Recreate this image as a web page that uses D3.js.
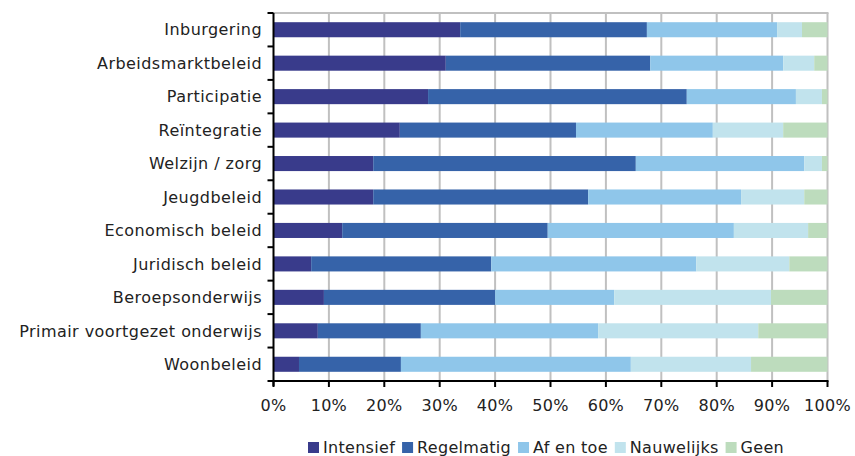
<!DOCTYPE html>
<html>
<head>
<meta charset="utf-8">
<script src="https://cdn.jsdelivr.net/npm/d3@7/dist/d3.min.js"></script>
<style>
  body { margin: 0; background: #fff; }
  text { font-family: "DejaVu Sans", Verdana, sans-serif; fill: #222; letter-spacing: 0.3px; }
  .cat { letter-spacing: 0.45px; }
</style>
</head>
<body>
<div id="chart"></div>
<script>
// categories, top to bottom
var categories = ["Inburgering", "Arbeidsmarktbeleid", "Participatie", "Reïntegratie",
  "Welzijn / zorg", "Jeugdbeleid", "Economisch beleid", "Juridisch beleid",
  "Beroepsonderwijs", "Primair voortgezet onderwijs", "Woonbeleid"];

var seriesNames = ["Intensief", "Regelmatig", "Af en toe", "Nauwelijks", "Geen"];

// percentages per series, in category order
var intensief  = [33.7, 31.1, 27.9, 22.8, 18.0, 18.0, 12.4,  6.8,  9.1,  8.0,  4.6];
var regelmatig = [33.7, 36.9, 46.7, 31.8, 47.4, 38.8, 37.1, 32.5, 30.9, 18.6, 18.4];
var afEnToe    = [23.5, 24.0, 19.7, 24.7, 30.4, 27.6, 33.6, 37.0, 21.5, 32.0, 41.5];
var nauwelijks = [ 4.5,  5.6,  4.7, 12.7,  3.2, 11.4, 13.4, 16.8, 28.3, 28.9, 21.7];
var geen       = [ 4.6,  2.4,  1.0,  8.0,  1.0,  4.2,  3.5,  6.9, 10.2, 12.5, 13.8];

var xTicks = [0, 10, 20, 30, 40, 50, 60, 70, 80, 90, 100];

var colors = ["#393b8b", "#3663a9", "#8fc6ea", "#c1e3ed", "#bddcbd"];

var width = 855, height = 456;
var plotLeft = 273.5, plotRight = 827.5, plotTop = 13, plotBottom = 381;

var svg = d3.select("#chart").append("svg")
  .attr("width", width)
  .attr("height", height);

var x = d3.scaleLinear().domain([0, 100]).range([plotLeft, plotRight]);
var y = d3.scaleBand().domain(categories).range([plotTop, plotBottom])
  .paddingInner(0.55).paddingOuter(0.275);

// table for the stack
var rows = categories.map(function(c, i) {
  return {cat: c, "Intensief": intensief[i], "Regelmatig": regelmatig[i],
    "Af en toe": afEnToe[i], "Nauwelijks": nauwelijks[i], "Geen": geen[i]};
});
var stacked = d3.stack().keys(seriesNames)(rows);

// grid
svg.append("g").selectAll("line")
  .data(xTicks.slice(1))
  .enter().append("line")
  .attr("x1", function(d) { return x(d); })
  .attr("x2", function(d) { return x(d); })
  .attr("y1", plotTop).attr("y2", plotBottom)
  .style("stroke", "#c0c0c0").style("stroke-width", 2);

svg.append("line")
  .attr("x1", plotLeft).attr("x2", plotRight + 1)
  .attr("y1", plotTop).attr("y2", plotTop)
  .style("stroke", "#c0c0c0").style("stroke-width", 2);

// bars
svg.append("g").selectAll("g")
  .data(stacked)
  .enter().append("g")
  .attr("fill", function(d, i) { return colors[i]; })
  .selectAll("rect")
  .data(function(d) { return d; })
  .enter().append("rect")
  .attr("x", function(d) { return x(d[0]); })
  .attr("width", function(d) { return x(d[1]) - x(d[0]); })
  .attr("y", function(d) { return y(d.data.cat); })
  .attr("height", y.bandwidth());

// left axis with ticks between categories
var step = y.step();
var yEdges = d3.range(categories.length + 1).map(function(i) { return plotTop + i * step; });
var yAxis = svg.append("g");
yAxis.append("line")
  .attr("x1", plotLeft).attr("x2", plotLeft)
  .attr("y1", plotTop).attr("y2", plotBottom + 5)
  .style("stroke", "#000").style("stroke-width", 2);
yAxis.selectAll("line.tick")
  .data(yEdges)
  .enter().append("line")
  .attr("class", "tick")
  .attr("x1", plotLeft - 6).attr("x2", plotLeft)
  .attr("y1", function(d) { return d; })
  .attr("y2", function(d) { return d; })
  .style("stroke", "#000").style("stroke-width", 2);
yAxis.selectAll("text")
  .data(categories)
  .enter().append("text")
  .attr("class", "cat")
  .attr("x", 262)
  .attr("y", function(d) { return y(d) + y.bandwidth() / 2; })
  .attr("dy", "0.36em")
  .attr("text-anchor", "end")
  .style("font-size", "16px")
  .text(function(d) { return d; });

// bottom axis
var xAxis = svg.append("g");
xAxis.append("line")
  .attr("x1", plotLeft - 1).attr("x2", plotRight + 1)
  .attr("y1", plotBottom).attr("y2", plotBottom)
  .style("stroke", "#000").style("stroke-width", 2);
xAxis.selectAll("line.tick")
  .data(xTicks)
  .enter().append("line")
  .attr("class", "tick")
  .attr("x1", function(d) { return x(d); })
  .attr("x2", function(d) { return x(d); })
  .attr("y1", plotBottom).attr("y2", plotBottom + 6)
  .style("stroke", "#000").style("stroke-width", 2);
xAxis.selectAll("text")
  .data(xTicks)
  .enter().append("text")
  .attr("x", function(d) { return x(d); })
  .attr("y", 411)
  .attr("text-anchor", "middle")
  .style("font-size", "16px")
  .text(function(d) { return d + "%"; });

// legend
var legend = svg.append("g");
var lx = 308;
seriesNames.forEach(function(name, i) {
  legend.append("rect")
    .attr("x", lx).attr("y", 442)
    .attr("width", 11).attr("height", 11)
    .attr("fill", colors[i]);
  var t = legend.append("text")
    .attr("x", lx + 15).attr("y", 453)
    .style("font-size", "16px")
    .text(name);
  lx = lx + 15 + t.node().getComputedTextLength() + 7;
});
</script>
</body>
</html>
